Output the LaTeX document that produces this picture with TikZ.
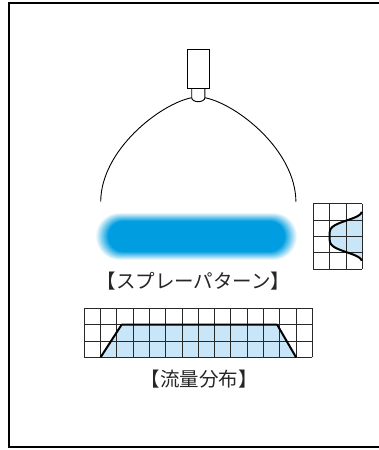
\documentclass[tikz,border=0pt]{standalone}
\usepackage{fontspec}
\newfontfamily\jpfont{Noto Sans CJK JP}
\usetikzlibrary{positioning}
\definecolor{spraycore}{RGB}{0,158,224}
\definecolor{flowfill}{RGB}{200,230,248}
\definecolor{gridgray}{RGB}{40,40,40}

\begin{document}
\begin{tikzpicture}[x=1pt, y=-1pt,
    gridline/.style={draw=gridgray, line width=0.9pt},
    curveline/.style={draw=black, line width=2pt, line join=round},
    caption/.style={font=\jpfont\fontsize{19.5}{21}\selectfont, text=black!85, inner sep=0pt}]
    \useasboundingbox (0,0) rectangle (379,450);

    % frame, open on the right
    \draw [line width=2pt] (385,2.5) -- (9,2.5) -- (9,447) -- (385,447);

    % nozzle
    \draw [line width=0.9pt] (187,49.3) rectangle (209.7,88.3);
    \draw [line width=0.9pt] (191.7,88.3) -- (191.7,97.7)
        arc [start angle=180, end angle=0, x radius=6.6, y radius=4] -- (204.9,88.3);
    \coordinate (tipL) at (191.7,97.7);
    \coordinate (tipR) at (204.9,97.7);
    \coordinate (endL) at (100.7,201.7);
    \coordinate (endR) at (295.9,201.7);
    \draw [line width=0.9pt] (tipL) .. controls (160,104) and (101,150) .. (endL);
    \draw [line width=0.9pt] (tipR) .. controls (236.6,104) and (295.6,150) .. (endR);

    % spray pattern, soft edge
    \foreach \k in {0,...,12}{
        \pgfmathsetmacro{\ex}{12-\k}
        \pgfmathsetmacro{\ey}{(12-\k)*0.66}
        \pgfmathtruncatemacro{\p}{100*(\k+1)/13}
        \pgfmathsetmacro{\r}{15.5+\ey}
        \fill [spraycore!\p!white, rounded corners=\r pt]
            (108-\ex,221-\ey) rectangle (285+\ex,252+\ey);
    }
    \node [caption] (spraytext) at (193.5,281) {【スプレーパターン】};

    % cross profile
    \begin{scope}[shift={(313.3,269)}, x=16.33pt, y=16.33pt]
        \fill [flowfill] (3,0.5) -- plot [domain=-1.5:1.5, samples=60, smooth]
            ({3-2*exp(-((\x/1.05)^4))}, {2+\x}) -- cycle;
        \draw [gridline, xstep=1, ystep=1] (0,0) grid (3,4);
        \draw [curveline] plot [domain=-1.5:1.5, samples=60, smooth]
            ({3-2*exp(-((\x/1.05)^4))}, {2+\x});
    \end{scope}

    % flow distribution
    \begin{scope}[shift={(84.3,357.3)}, x=16.29pt, y=16.29pt]
        \fill [flowfill] (1,0) -- (2.29,2) -- (11.84,2) -- (13,0) -- cycle;
        \draw [gridline, xstep=1, ystep=1] (0,0) grid (14,3);
        \draw [curveline] (1,0) -- (2.29,2) -- (11.84,2) -- (13,0);
    \end{scope}
    \node [caption] (flowtext) at (199,379) {【流量分布】};

\end{tikzpicture}
\end{document}
